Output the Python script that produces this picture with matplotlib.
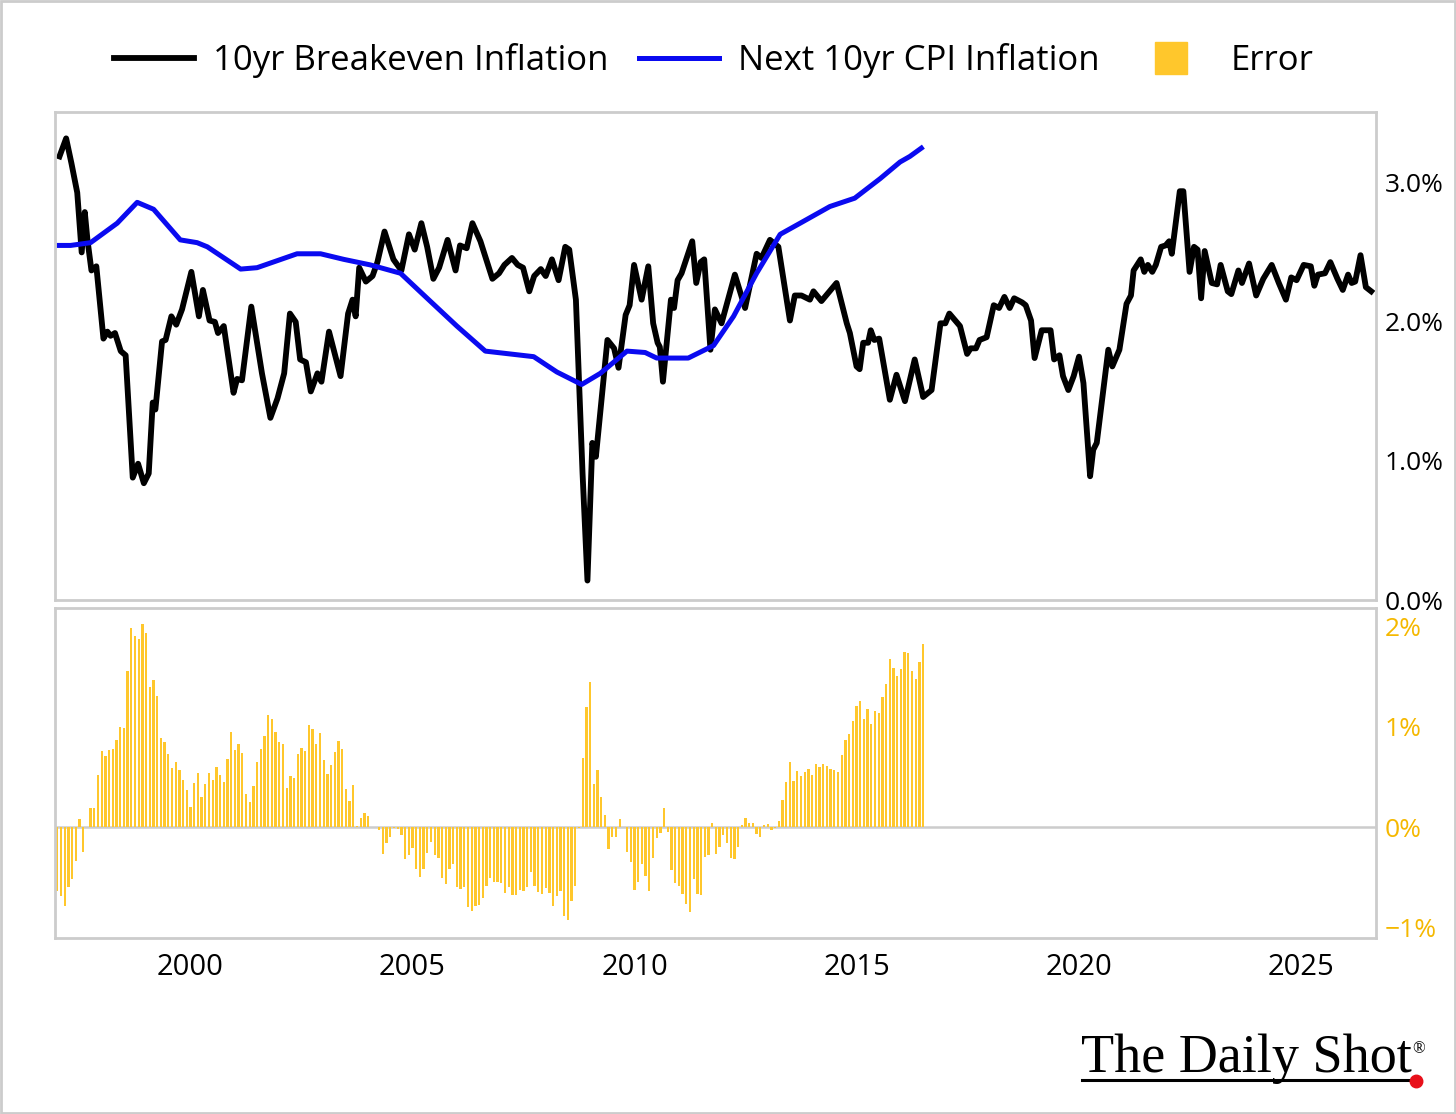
import numpy as np
import matplotlib.pyplot as plt
from matplotlib.lines import Line2D
from matplotlib.patches import Rectangle

plt.rcParams['font.family'] = ['Open Sans', 'DejaVu Sans']

# 10yr breakeven inflation (decimal year, %)
bei_year = [
    1997.05, 1997.20, 1997.32, 1997.45, 1997.50, 1997.55, 1997.62, 1997.68, 1997.77, 1997.88,
    1998.04, 1998.13, 1998.20, 1998.30, 1998.43, 1998.54, 1998.70, 1998.82, 1998.95, 1999.06,
    1999.15, 1999.21, 1999.36, 1999.44, 1999.57, 1999.68, 1999.81, 2000.02, 2000.19, 2000.28,
    2000.43, 2000.55, 2000.62, 2000.75, 2000.97, 2001.05, 2001.16, 2001.37, 2001.61, 2001.80,
    2001.96, 2002.11, 2002.24, 2002.37, 2002.47, 2002.60, 2002.71, 2002.86, 2002.95, 2003.12,
    2003.38, 2003.55, 2003.65, 2003.72, 2003.80, 2003.95, 2004.10, 2004.21, 2004.37, 2004.57,
    2004.75, 2004.92, 2005.05, 2005.20, 2005.33, 2005.47, 2005.60, 2005.79, 2005.97, 2006.07,
    2006.22, 2006.35, 2006.53, 2006.80, 2006.95, 2007.07, 2007.24, 2007.37, 2007.49, 2007.63,
    2007.74, 2007.89, 2008.00, 2008.14, 2008.29, 2008.44, 2008.53, 2008.68, 2008.83, 2008.94,
    2009.05, 2009.13, 2009.39, 2009.54, 2009.64, 2009.80, 2009.89, 2009.99, 2010.16, 2010.31,
    2010.42, 2010.52, 2010.57, 2010.64, 2010.82, 2010.89, 2010.97, 2011.06, 2011.30, 2011.39,
    2011.49, 2011.57, 2011.71, 2011.81, 2011.96, 2012.26, 2012.49, 2012.75, 2012.86, 2013.05,
    2013.24, 2013.50, 2013.61, 2013.76, 2013.95, 2014.03, 2014.21, 2014.55, 2014.78, 2014.85,
    2015.00, 2015.07, 2015.15, 2015.26, 2015.32, 2015.40, 2015.51, 2015.75, 2015.90, 2016.09,
    2016.31, 2016.50, 2016.69, 2016.89, 2017.00, 2017.09, 2017.33, 2017.49, 2017.57, 2017.69,
    2017.77, 2017.93, 2018.09, 2018.21, 2018.33, 2018.45, 2018.55, 2018.73, 2018.81, 2018.93,
    2019.01, 2019.17, 2019.37, 2019.45, 2019.57, 2019.65, 2019.77, 2019.89, 2020.01, 2020.11,
    2020.26, 2020.33, 2020.41, 2020.67, 2020.76, 2020.92, 2021.08, 2021.18, 2021.24, 2021.40,
    2021.48, 2021.56, 2021.66, 2021.74, 2021.86, 2021.96, 2022.04, 2022.10, 2022.28, 2022.36,
    2022.50, 2022.60, 2022.68, 2022.76, 2022.84, 2023.00, 2023.12, 2023.20, 2023.36, 2023.44,
    2023.60, 2023.68, 2023.84, 2024.00, 2024.16, 2024.35, 2024.51, 2024.67, 2024.79, 2024.91,
    2025.07, 2025.23, 2025.31, 2025.39, 2025.55, 2025.67, 2025.83, 2025.95, 2026.07, 2026.15,
    2026.23, 2026.35, 2026.47, 2026.59,
]
bei_value = [
    3.19, 3.32, 3.14, 2.93, 2.71, 2.50, 2.79, 2.59, 2.37, 2.40,
    1.88, 1.93, 1.90, 1.92, 1.79, 1.76, 0.88, 0.98, 0.84, 0.91,
    1.42, 1.37, 1.86, 1.87, 2.04, 1.98, 2.09, 2.36, 2.04, 2.23,
    2.01, 2.00, 1.92, 1.97, 1.49, 1.59, 1.58, 2.11, 1.63, 1.31,
    1.45, 1.63, 2.06, 2.00, 1.73, 1.71, 1.50, 1.63, 1.57, 1.93,
    1.61, 2.06, 2.16, 2.04, 2.39, 2.29, 2.33, 2.43, 2.65, 2.45,
    2.37, 2.63, 2.52, 2.71, 2.54, 2.31, 2.39, 2.59, 2.37, 2.55,
    2.53, 2.71, 2.58, 2.31, 2.35, 2.41, 2.46, 2.41, 2.39, 2.22,
    2.33, 2.38, 2.33, 2.45, 2.30, 2.54, 2.52, 2.16, 0.91, 0.14,
    1.13, 1.03, 1.87, 1.81, 1.67, 2.05, 2.12, 2.41, 2.16, 2.40,
    1.99, 1.85, 1.82, 1.57, 2.16, 2.10, 2.30, 2.35, 2.58, 2.28,
    2.43, 2.45, 1.80, 2.09, 1.99, 2.34, 2.10, 2.49, 2.46, 2.59,
    2.54, 2.01, 2.19, 2.19, 2.16, 2.22, 2.15, 2.28, 1.99, 1.92,
    1.68, 1.66, 1.85, 1.85, 1.94, 1.87, 1.88, 1.44, 1.62, 1.43,
    1.73, 1.46, 1.51, 1.99, 1.99, 2.06, 1.97, 1.77, 1.81, 1.81,
    1.87, 1.89, 2.12, 2.10, 2.18, 2.10, 2.17, 2.14, 2.12, 2.01,
    1.74, 1.94, 1.94, 1.73, 1.76, 1.61, 1.51, 1.61, 1.75, 1.56,
    0.89, 1.08, 1.13, 1.80, 1.68, 1.80, 2.13, 2.19, 2.37, 2.45,
    2.36, 2.41, 2.36, 2.41, 2.54, 2.55, 2.58, 2.49, 2.94, 2.94,
    2.36, 2.54, 2.52, 2.17, 2.51, 2.28, 2.27, 2.41, 2.22, 2.20,
    2.37, 2.28, 2.42, 2.19, 2.31, 2.41, 2.28, 2.16, 2.32, 2.30,
    2.41, 2.40, 2.26, 2.34, 2.35, 2.43, 2.31, 2.23, 2.34, 2.28,
    2.29, 2.48, 2.25, 2.22,
]

# Next 10yr realised CPI inflation (decimal year, %)
cpi_year = [
    1997.04, 1997.30, 1997.75, 1998.35, 1998.80, 1999.17, 1999.77, 2000.15, 2000.38, 2001.13,
    2001.50, 2002.40, 2002.93, 2003.45, 2004.05, 2004.73, 2005.33, 2006.00, 2006.64, 2007.73,
    2008.25, 2008.81, 2009.23, 2009.83, 2010.24, 2010.50, 2011.21, 2011.78, 2012.23, 2012.75,
    2013.28, 2013.73, 2014.40, 2014.96, 2015.53, 2015.98, 2016.20, 2016.46,
]
cpi_value = [
    2.55, 2.55, 2.57, 2.71, 2.86, 2.81, 2.59, 2.57, 2.54, 2.38,
    2.39, 2.49, 2.49, 2.45, 2.41, 2.35, 2.17, 1.97, 1.79, 1.75,
    1.64, 1.55, 1.63, 1.79, 1.78, 1.74, 1.74, 1.83, 2.04, 2.35,
    2.63, 2.71, 2.83, 2.89, 3.03, 3.15, 3.19, 3.25,
]

# Error (monthly from Jan 1997, %)
error = [
    -0.63, -0.68, -0.78, -0.59, -0.51, -0.33, 0.08, -0.25, 0.00, 0.19,
    0.19, 0.52, 0.76, 0.71, 0.77, 0.78, 0.87, 1.00, 0.99, 1.55,
    1.98, 1.90, 1.87, 2.02, 1.93, 1.39, 1.46, 1.31, 0.89, 0.85,
    0.73, 0.59, 0.65, 0.57, 0.47, 0.37, 0.20, 0.44, 0.54, 0.30,
    0.43, 0.54, 0.47, 0.60, 0.52, 0.45, 0.68, 0.95, 0.77, 0.83,
    0.74, 0.33, 0.25, 0.41, 0.65, 0.78, 0.91, 1.12, 1.08, 0.95,
    0.85, 0.83, 0.39, 0.51, 0.49, 0.73, 0.79, 0.76, 1.02, 0.98,
    0.83, 0.94, 0.67, 0.53, 0.62, 0.75, 0.86, 0.78, 0.38, 0.26,
    0.42, 0.01, 0.09, 0.14, 0.11, 0.00, 0.00, -0.03, -0.27, -0.16,
    -0.10, -0.01, -0.02, -0.08, -0.31, -0.28, -0.21, -0.41, -0.49, -0.41,
    -0.26, -0.15, -0.28, -0.30, -0.50, -0.56, -0.41, -0.36, -0.59, -0.61,
    -0.59, -0.79, -0.83, -0.78, -0.77, -0.70, -0.58, -0.50, -0.54, -0.54,
    -0.55, -0.65, -0.59, -0.67, -0.67, -0.62, -0.63, -0.59, -0.44, -0.58,
    -0.64, -0.66, -0.60, -0.65, -0.78, -0.68, -0.63, -0.88, -0.92, -0.73,
    -0.58, -0.01, 0.69, 1.20, 1.44, 0.43, 0.57, 0.30, 0.12, -0.22,
    -0.10, -0.10, 0.08, 0.00, -0.25, -0.34, -0.62, -0.54, -0.36, -0.48,
    -0.63, -0.30, -0.11, -0.06, 0.19, -0.05, -0.42, -0.55, -0.58, -0.66,
    -0.76, -0.84, -0.51, -0.66, -0.67, -0.29, -0.28, 0.04, -0.27, -0.20,
    -0.08, -0.16, -0.30, -0.31, -0.20, 0.02, 0.09, 0.04, 0.04, -0.07,
    -0.10, 0.02, 0.03, -0.03, -0.01, 0.06, 0.27, 0.45, 0.65, 0.46,
    0.56, 0.51, 0.55, 0.58, 0.52, 0.63, 0.60, 0.63, 0.61, 0.58,
    0.57, 0.55, 0.72, 0.87, 0.93, 1.06, 1.21, 1.26, 1.08, 1.18,
    1.03, 1.16, 1.14, 1.30, 1.42, 1.67, 1.58, 1.50, 1.57, 1.74,
    1.73, 1.55, 1.47, 1.64, 1.82,
]
err_year = 1997 + np.arange(len(error)) / 12

top_ticks = [0, 1, 2, 3]
bot_ticks = [-1, 0, 1, 2]
year_ticks = [2000, 2005, 2010, 2015, 2020, 2025]

gold = '#FFC72C'
gold_txt = '#F5B800'
frame = '#CCCCCC'

fig = plt.figure(figsize=(14.56, 11.14), dpi=100)
ax1 = fig.add_axes([0.0378, 0.4614, 0.9073, 0.4381])
ax2 = fig.add_axes([0.0378, 0.158, 0.9073, 0.2962], sharex=ax1)

ax1.plot(bei_year, bei_value, color='black', lw=4.2)
ax1.plot(cpi_year, cpi_value, color='#0A0AF0', lw=3.6)
ax1.set_ylim(0, 3.51)
ax1.set_xlim(1996.95, 2026.7)
ax1.yaxis.tick_right()
ax1.set_yticks(top_ticks)
ax1.set_yticklabels([f'{v:.1f}%' for v in top_ticks])
ax1.tick_params(axis='y', length=0, labelsize=19, pad=6)
ax1.tick_params(axis='x', length=0, labelbottom=False)

ax2.axhline(0, color=frame, lw=1.8, zorder=0)
ax2.bar(err_year, error, width=0.052, color=gold, zorder=2)
ax2.set_ylim(-1.1, 2.18)
ax2.yaxis.tick_right()
ax2.set_yticks(bot_ticks)
ax2.set_yticklabels([f'{v}%'.replace('-', '\u2212') for v in bot_ticks])
ax2.tick_params(axis='y', length=0, labelsize=19, pad=6, labelcolor=gold_txt)
ax2.set_xticks(year_ticks)
ax2.tick_params(axis='x', length=0, labelsize=21, pad=11)

for ax in (ax1, ax2):
    for s in ax.spines.values():
        s.set_color(frame)
        s.set_linewidth(2)

handles = [
    Line2D([], [], color='black', lw=4.2),
    Line2D([], [], color='#0A0AF0', lw=3.6),
    Line2D([], [], color=gold, marker='s', markersize=23, linestyle='none'),
]
labels = ['10yr Breakeven Inflation', 'Next 10yr CPI Inflation', 'Error']
fig.legend(handles, labels, loc='center', bbox_to_anchor=(0.49, 0.946), ncol=3,
           frameon=False, fontsize=25, handlelength=2.3, handletextpad=0.55,
           columnspacing=0.9)

# logo
fig.text(0.9698, 0.0377, 'The Daily Shot', ha='right', va='baseline',
         family=['Liberation Serif', 'DejaVu Serif'], fontsize=39)
fig.text(0.9745, 0.058, '\u00ae', ha='center', va='center',
         family=['Liberation Serif', 'DejaVu Serif'], fontsize=12)
fig.lines.append(Line2D([0.743, 0.972], [0.0305, 0.0305], transform=fig.transFigure,
                        color='black', lw=2.2))
fig.lines.append(Line2D([0.9725], [0.0295], transform=fig.transFigure,
                        color='#E8101A', marker='o', markersize=9))

fig.patches.append(Rectangle((0.001, 0.001), 0.998, 0.998, transform=fig.transFigure,
                             fill=False, edgecolor=frame, lw=2))

fig.savefig('out.png', dpi=100)
